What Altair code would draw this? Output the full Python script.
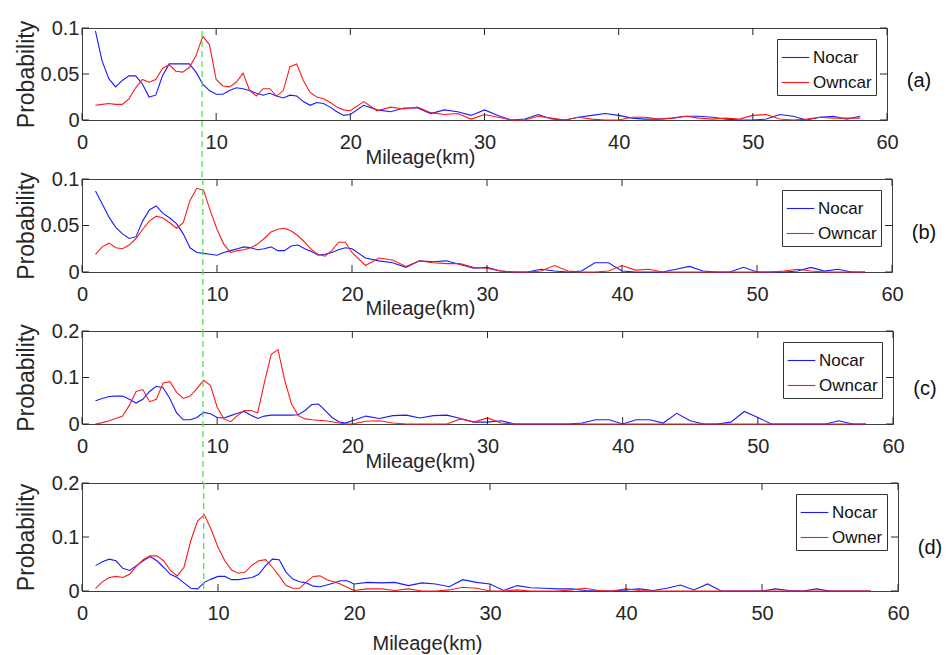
import altair as alt
import pandas as pd

FONT = "Liberation Sans"
BLUE = "#1a1aff"
RED = "#ff1a1a"
GREEN = "#55dd55"
AXC = "#262626"

mileage = [1, 1.5, 2, 2.5, 3, 3.5, 4, 4.5, 5, 5.5, 6, 6.5, 7, 7.5, 8, 8.5, 9, 9.5, 10,
           10.5, 11, 11.5, 12, 12.5, 13, 13.5, 14, 14.5, 15, 15.5, 16, 16.5, 17, 17.5,
           18, 18.5, 19, 19.5, 20,
           21, 22, 23, 24, 25, 26, 27, 28, 29, 30, 31, 32, 33, 34, 35, 36, 37, 38, 39, 40,
           41, 42, 43, 44, 45, 46, 47, 48, 49, 50, 51, 52, 53, 54, 55, 56, 57, 58]

a_nocar = [0.097, 0.064, 0.045, 0.036, 0.043, 0.048, 0.048, 0.039, 0.025, 0.027,
           0.048, 0.061, 0.061, 0.061, 0.061, 0.052, 0.039, 0.032, 0.028, 0.028,
           0.032, 0.035, 0.034, 0.032, 0.029, 0.027, 0.029, 0.026, 0.024, 0.027,
           0.026, 0.020, 0.016, 0.019, 0.018, 0.014, 0.009, 0.005, 0.006,
           0.016, 0.011, 0.009, 0.013, 0.013, 0.007, 0.011, 0.009, 0.005, 0.011,
           0.005, 0.000, 0.001, 0.006, 0.001, 0.000, 0.003, 0.005, 0.007, 0.005,
           0.002, 0.001, 0.001, 0.002, 0.004, 0.004, 0.003, 0.001, 0.000, 0.000,
           0.001, 0.006, 0.004, 0.000, 0.003, 0.004, 0.001, 0.004]
a_owncar = [0.016, 0.017, 0.018, 0.017, 0.017, 0.023, 0.035, 0.044, 0.041, 0.044,
            0.056, 0.060, 0.053, 0.052, 0.057, 0.070, 0.091, 0.082, 0.044, 0.037,
            0.036, 0.041, 0.051, 0.032, 0.026, 0.034, 0.034, 0.026, 0.032, 0.058,
            0.061, 0.043, 0.030, 0.025, 0.023, 0.019, 0.014, 0.011, 0.010,
            0.020, 0.010, 0.014, 0.012, 0.014, 0.008, 0.006, 0.007, 0.001, 0.006,
            0.003, 0.000, 0.000, 0.004, 0.002, 0.000, 0.003, 0.001, 0.000, 0.000,
            0.003, 0.003, 0.001, 0.002, 0.004, 0.002, 0.001, 0.002, 0.001, 0.005,
            0.006, 0.001, 0.000, 0.001, 0.003, 0.002, 0.002, 0.002]

b_nocar = [0.087, 0.073, 0.059, 0.048, 0.041, 0.036, 0.038, 0.055, 0.067, 0.071,
           0.063, 0.058, 0.052, 0.041, 0.026, 0.021, 0.020, 0.019, 0.018, 0.021,
           0.023, 0.025, 0.027, 0.026, 0.024, 0.025, 0.027, 0.023, 0.023, 0.028,
           0.029, 0.025, 0.022, 0.018, 0.019, 0.021, 0.024, 0.026, 0.025,
           0.015, 0.012, 0.010, 0.005, 0.012, 0.011, 0.012, 0.008, 0.004, 0.005,
           0.001, 0.000, 0.000, 0.003, 0.001, 0.000, 0.001, 0.010, 0.010, 0.001,
           0.000, 0.000, 0.000, 0.003, 0.006, 0.001, 0.000, 0.000, 0.005, 0.000,
           0.000, 0.000, 0.001, 0.005, 0.001, 0.003, 0.000, 0.000]
b_owncar = [0.019, 0.027, 0.031, 0.026, 0.025, 0.029, 0.036, 0.046, 0.055, 0.060,
            0.058, 0.053, 0.047, 0.053, 0.077, 0.090, 0.088, 0.066, 0.046, 0.030,
            0.021, 0.023, 0.024, 0.026, 0.030, 0.036, 0.043, 0.046, 0.047, 0.044,
            0.039, 0.032, 0.024, 0.019, 0.017, 0.023, 0.032, 0.032, 0.021,
            0.007, 0.015, 0.013, 0.006, 0.012, 0.010, 0.009, 0.009, 0.005, 0.004,
            0.001, 0.000, 0.000, 0.001, 0.007, 0.001, 0.000, 0.000, 0.001, 0.007,
            0.002, 0.003, 0.000, 0.000, 0.000, 0.000, 0.000, 0.000, 0.000, 0.000,
            0.000, 0.001, 0.003, 0.001, 0.000, 0.000, 0.000, 0.000]

c_nocar = [0.050, 0.055, 0.059, 0.060, 0.060, 0.053, 0.045, 0.053, 0.070, 0.081,
           0.078, 0.055, 0.024, 0.009, 0.009, 0.014, 0.025, 0.022, 0.014, 0.013,
           0.018, 0.023, 0.027, 0.019, 0.012, 0.017, 0.019, 0.019, 0.019, 0.019,
           0.020, 0.029, 0.042, 0.043, 0.029, 0.014, 0.005, 0.002, 0.007,
           0.017, 0.012, 0.018, 0.019, 0.013, 0.018, 0.019, 0.012, 0.004, 0.004,
           0.007, 0.000, 0.000, 0.000, 0.000, 0.000, 0.002, 0.009, 0.009, 0.000,
           0.009, 0.009, 0.002, 0.023, 0.007, 0.000, 0.000, 0.004, 0.027, 0.014,
           0.000, 0.000, 0.000, 0.000, 0.000, 0.007, 0.000, 0.000]
c_owncar = [0.000, 0.003, 0.007, 0.012, 0.017, 0.040, 0.070, 0.074, 0.048, 0.053,
            0.088, 0.091, 0.068, 0.055, 0.060, 0.076, 0.094, 0.083, 0.036, 0.011,
            0.005, 0.018, 0.029, 0.029, 0.024, 0.090, 0.150, 0.160, 0.094, 0.043,
            0.018, 0.011, 0.009, 0.008, 0.007, 0.005, 0.002, 0.000, 0.000,
            0.006, 0.007, 0.002, 0.000, 0.000, 0.000, 0.000, 0.011, 0.004, 0.013,
            0.002, 0.000, 0.000, 0.000, 0.000, 0.000, 0.000, 0.000, 0.000, 0.000,
            0.000, 0.000, 0.000, 0.000, 0.000, 0.000, 0.000, 0.000, 0.000, 0.000,
            0.000, 0.000, 0.000, 0.000, 0.000, 0.000, 0.000, 0.000]

d_nocar = [0.047, 0.054, 0.059, 0.056, 0.042, 0.038, 0.047, 0.056, 0.064, 0.056,
           0.044, 0.031, 0.025, 0.015, 0.005, 0.004, 0.016, 0.022, 0.027, 0.027,
           0.021, 0.021, 0.023, 0.025, 0.031, 0.047, 0.059, 0.058, 0.035, 0.022,
           0.017, 0.015, 0.009, 0.008, 0.011, 0.015, 0.019, 0.019, 0.013,
           0.016, 0.015, 0.016, 0.010, 0.015, 0.013, 0.008, 0.021, 0.016, 0.013,
           0.001, 0.010, 0.006, 0.005, 0.004, 0.004, 0.001, 0.000, 0.000, 0.002,
           0.004, 0.001, 0.005, 0.011, 0.002, 0.013, 0.000, 0.000, 0.000, 0.000,
           0.004, 0.001, 0.000, 0.004, 0.000, 0.000, 0.000, 0.000]
d_owner = [0.005, 0.017, 0.025, 0.027, 0.025, 0.031, 0.046, 0.058, 0.065, 0.065,
           0.056, 0.038, 0.028, 0.044, 0.093, 0.130, 0.141, 0.114, 0.081, 0.056,
           0.039, 0.033, 0.035, 0.048, 0.056, 0.058, 0.044, 0.028, 0.010, 0.005,
           0.005, 0.017, 0.027, 0.028, 0.021, 0.017, 0.013, 0.007, 0.001,
           0.004, 0.004, 0.001, 0.004, 0.000, 0.000, 0.002, 0.007, 0.005, 0.000,
           0.000, 0.002, 0.000, 0.000, 0.000, 0.002, 0.005, 0.001, 0.000, 0.004,
           0.001, 0.000, 0.000, 0.000, 0.000, 0.000, 0.000, 0.000, 0.000, 0.000,
           0.000, 0.000, 0.000, 0.000, 0.000, 0.000, 0.000, 0.000]

x_ticks = [0, 10, 20, 30, 40, 50, 60]
y_ticks_small = [0, 0.05, 0.1]
y_ticks_large = [0, 0.1, 0.2]
threshold = [8.95]
tags = ["(a)", "(b)", "(c)", "(d)"]
GAP = 59
TICK = 7


def panel(nocar, own, own_label, ymax, yticks, width, height, tag, tag_y,
          rule_top, rule_extend, title_x, title_y):
    n = len(mileage)
    assert len(nocar) == n and len(own) == n
    df = pd.DataFrame({
        "Mileage": mileage * 2,
        "Probability": nocar + own,
        "Series": ["Nocar"] * n + [own_label] * n,
    })
    xs = alt.Scale(domain=[0, 60], nice=False, zero=False)
    ys = alt.Scale(domain=[0, ymax], nice=False)
    lines = alt.Chart(df).mark_line(strokeWidth=1.1).encode(
        x=alt.X("Mileage:Q", scale=xs,
                axis=alt.Axis(values=x_ticks, title="Mileage(km)", titleX=title_x,
                              titleY=title_y, titleAlign="center",
                              titleBaseline="alphabetic", labelFlush=False,
                              labelOverlap=False, labelPadding=12)),
        y=alt.Y("Probability:Q", scale=ys,
                axis=alt.Axis(values=yticks, format="~g", title="Probability",
                              titleX=-44, titleBaseline="bottom", labelPadding=3,
                              labelOverlap=False, titleFontSize=23)),
        color=alt.Color("Series:N",
                        scale=alt.Scale(domain=["Nocar", own_label], range=[BLUE, RED]),
                        legend=alt.Legend(title=None, orient="top-right", offset=11,
                                          symbolType="stroke", symbolSize=760,
                                          symbolStrokeWidth=1.1, labelFontSize=17,
                                          labelFont=FONT, labelColor="#111",
                                          strokeColor="#333", fillColor="white",
                                          padding=4, rowPadding=2, labelOffset=3)),
    )
    tdf = pd.DataFrame({"Mileage": x_ticks})
    xt_bottom = alt.Chart(tdf).mark_rule(color=AXC, strokeWidth=1).encode(
        x=alt.X("Mileage:Q", scale=xs), y=alt.value(height - TICK), y2=alt.value(height))
    xt_top = alt.Chart(tdf).mark_rule(color=AXC, strokeWidth=1).encode(
        x=alt.X("Mileage:Q", scale=xs), y=alt.value(0), y2=alt.value(TICK))
    ydf = pd.DataFrame({"Probability": yticks})
    yt_right = alt.Chart(ydf).mark_rule(color=AXC, strokeWidth=1).encode(
        y=alt.Y("Probability:Q", scale=ys), x=alt.value(width - TICK), x2=alt.value(width))
    yt_left = alt.Chart(ydf).mark_rule(color=AXC, strokeWidth=1).encode(
        y=alt.Y("Probability:Q", scale=ys), x=alt.value(0), x2=alt.value(TICK))
    gdf = pd.DataFrame({"Mileage": threshold})
    green = alt.Chart(gdf).mark_rule(color=GREEN, strokeWidth=1.3,
                                     strokeDash=[6, 4]).encode(
        x=alt.X("Mileage:Q", scale=xs), y=alt.value(rule_top),
        y2=alt.value(height + rule_extend))
    tagdf = pd.DataFrame({"tag": [tag]})
    tagtext = alt.Chart(tagdf).mark_text(font=FONT, fontSize=20, color="#111",
                                         align="center", baseline="middle").encode(
        text="tag:N", x=alt.value(width + 32), y=alt.value(tag_y))
    return alt.layer(lines, green, xt_bottom, xt_top, yt_right, yt_left, tagtext).properties(
        width=width, height=height)


pa = panel(a_nocar, a_owncar, "Owncar", 0.1, y_ticks_small, 805, 92, tags[0], 53,
           3, GAP, 338, 43)
pb = panel(b_nocar, b_owncar, "Owncar", 0.1, y_ticks_small, 810, 93, tags[1], 54,
           0, GAP, 338, 42)
pc = panel(c_nocar, c_owncar, "Owncar", 0.2, y_ticks_large, 811, 93, tags[2], 58,
           0, GAP, 338, 43)
pd_ = panel(d_nocar, d_owner, "Owner", 0.2, y_ticks_large, 816, 108, tags[3], 65,
            0, 0, 345, 58)

chart = alt.vconcat(pa, pb, pc, pd_, spacing=GAP, bounds="flush").resolve_scale(
    color="independent").resolve_legend(color="independent").properties(
    padding={"left": 14, "top": 17, "right": 5, "bottom": 5},
    background="white",
).configure_view(stroke="#404040", strokeWidth=1).configure_axis(
    labelFont=FONT, labelFontSize=20, labelColor=AXC, titleFont=FONT,
    titleFontSize=20, titleFontWeight="normal", titleColor=AXC, tickSize=0,
    domain=False, grid=False,
)

chart.save("out.html", embed_options={"renderer": "svg", "actions": False})
